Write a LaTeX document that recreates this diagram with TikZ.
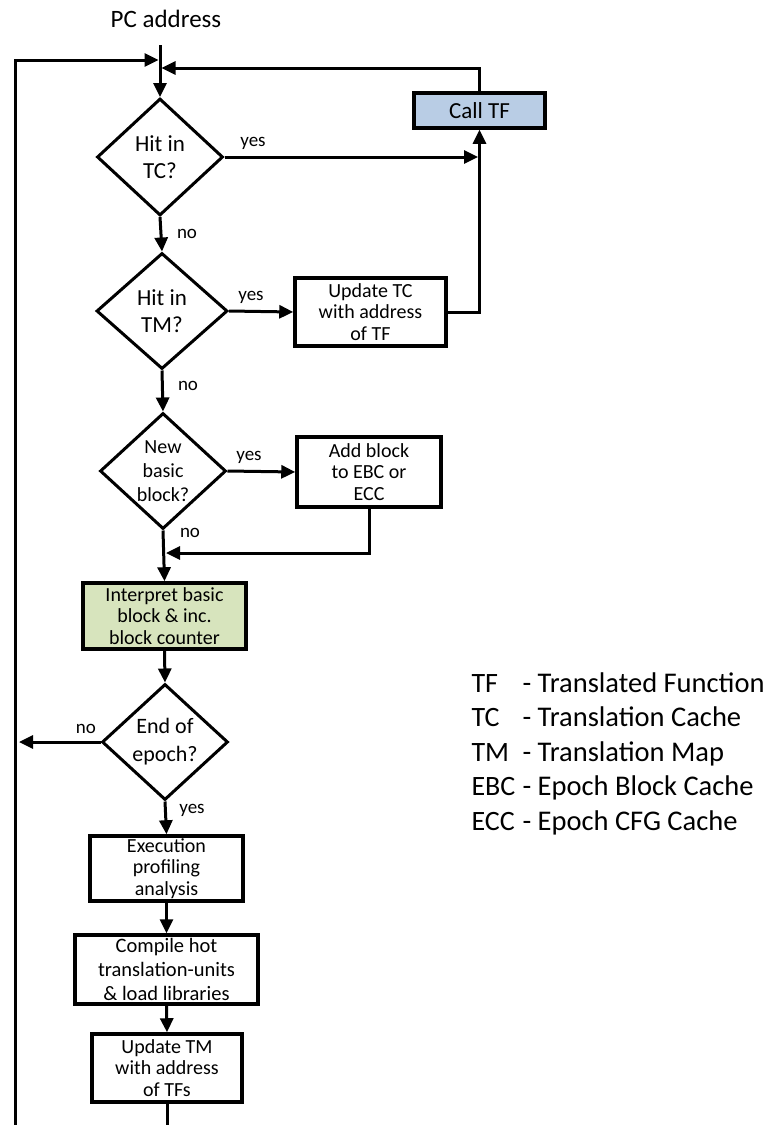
\documentclass[tikz,border=0pt]{standalone}
\usepackage{fontspec}
\setmainfont{Carlito}
\usetikzlibrary{arrows.meta,shapes.geometric}
\begin{document}
\begin{tikzpicture}[x=1pt,y=-1pt,
  line width=3pt,
  arr/.style={-{Triangle[length=14pt,width=13pt]}},
  dec/.style={draw,diamond,inner sep=0pt,line width=3pt,align=center},
  box/.style={draw,rectangle,inner sep=0pt,line width=3.5pt,align=center,font=\fontsize{20}{21.5}\selectfont},
  lab/.style={font=\fontsize{19}{19}\selectfont,inner sep=0pt},
  leg/.style={font=\fontsize{28}{28}\selectfont,inner sep=0pt,anchor=base west},
  legd/.style={font=\fontsize{28.5}{28.5}\selectfont,inner sep=0pt,anchor=base west}]
\useasboundingbox (0,0) rectangle (771,1125);

% title
\node[font=\fontsize{25}{25}\selectfont,inner sep=0pt] (pct) at (166,19) {PC address};

% decisions
\node[dec,minimum width=126pt,minimum height=117pt,font=\fontsize{23}{27}\selectfont] (d1) at (160,157) {Hit in\\TC?};
\node[dec,minimum width=131pt,minimum height=116pt,font=\fontsize{23}{27}\selectfont] (d2) at (162,311) {Hit in\\TM?};
\node[dec,minimum width=126pt,minimum height=116pt,font=\fontsize{20}{24}\selectfont] (d3) at (163,471) {New\\basic\\block?};
\node[dec,minimum width=126pt,minimum height=116pt,font=\fontsize{22}{28}\selectfont] (d4) at (165,742) {End of\\epoch?};

% boxes
\node[box,fill={rgb,255:red,185;green,205;blue,229},minimum width=131pt,minimum height=35pt,font=\fontsize{23}{23}\selectfont] (calltf) at (479.5,110.5) {Call TF};
\node[box,minimum width=151pt,minimum height=68pt] (updtc) at (370.5,312) {Update TC\\with address\\of TF};
\node[box,minimum width=144pt,minimum height=70pt] (addblk) at (369,472) {Add block\\to EBC or\\ECC};
\node[box,fill={rgb,255:red,215;green,228;blue,189},minimum width=163pt,minimum height=66pt] (interp) at (164.5,616) {Interpret basic\\block \& inc.\\block counter};
\node[box,minimum width=153pt,minimum height=65pt] (exec) at (166.5,868.5) {Execution\\profiling\\analysis};
\node[box,minimum width=183pt,minimum height=69pt,font=\fontsize{20.5}{24}\selectfont] (comp) at (166.5,969.5) {Compile hot\\translation-units\\\& load libraries};
\node[box,minimum width=150pt,minimum height=68pt] (updtm) at (167,1068) {Update TM\\with address\\of TFs};

% coordinates
\coordinate (pc) at (160,45);
\coordinate (lb) at (15,1125);
\coordinate (lt) at (15,60);
\coordinate (lj) at (158.5,60);
\coordinate (rt) at (480,68);
\coordinate (rj) at (161.5,68);
\coordinate (aj) at (166,553);
\coordinate (nl) at (19,742);
\coordinate (bt) at (167,1125);

% connectors
\draw[arr] (pc) -- (d1.north);
\draw[arr] (lb) -- (lt) -- (lj);
\draw[arr] (calltf.north) -- (calltf.north |- rt) -- (rj);
\draw[arr,shorten >=1.5pt] (d1.east) -- (d1.east -| calltf.south);
\draw[arr] (updtc.east) -- (updtc.east -| calltf.south) -- (calltf.south);
\draw[arr] (d1.south) -- (d2.north);
\draw[arr] (d2.east) -- (updtc.west);
\draw[arr] (d2.south) -- (d3.north);
\draw[arr] (d3.east) -- (addblk.west);
\draw[arr] (addblk.south) -- (addblk.south |- aj) -- (aj);
\draw[arr] (d3.south) -- (interp.north);
\draw[arr] (interp.south) -- (d4.north);
\draw[arr] (d4.west) -- (d4.west -| nl);
\draw[arr] (d4.south) -- (exec.north);
\draw[arr] (exec.south) -- (comp.north);
\draw[arr] (comp.south) -- (updtm.north);
\draw (updtm.south) -- (bt);

% labels
\node[lab] (l1) at (253,143) {yes};
\node[lab] (l2) at (187,234) {no};
\node[lab] (l3) at (251,297) {yes};
\node[lab] (l4) at (188,386) {no};
\node[lab] (l5) at (249,457) {yes};
\node[lab] (l6) at (190,533) {no};
\node[lab] (l7) at (86,729) {no};
\node[lab] (l8) at (192,810) {yes};

% legend
\node[leg] (a1) at (470,692) {TF};
\node[leg] (a2) at (470,726) {TC};
\node[leg] (a3) at (470,761) {TM};
\node[leg] (a4) at (470,795) {EBC};
\node[leg] (a5) at (470,830) {ECC};
\node[legd] (b1) at (521,692) {- Translated Function};
\node[legd] (b2) at (521,726) {- Translation Cache};
\node[legd] (b3) at (521,761) {- Translation Map};
\node[legd] (b4) at (521,795) {- Epoch Block Cache};
\node[legd] (b5) at (521,830) {- Epoch CFG Cache};
\end{tikzpicture}
\end{document}
